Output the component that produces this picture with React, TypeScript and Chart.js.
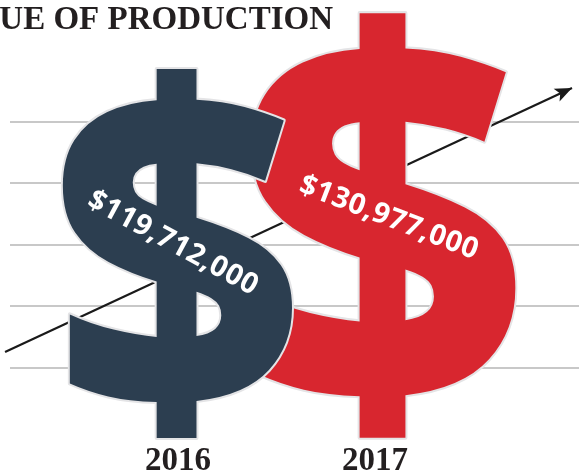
import React, { useEffect, useRef } from 'react';
import { Chart, registerables } from 'chart.js';

Chart.register(...registerables);

// ---- data ----
const years = [2016, 2017];
const yearLabels = ['2016', '2017'];
const valuesMillions = [119.712, 130.977];
const valueLabels = ['$119,712,000', '$130,977,000'];
const gridValues = [59.4, 71.7, 84, 96.3, 108.6];
const arrowX = [2015.122, 2018.0];
const arrowY = [62.6, 115.4];
const titleText = 'VALUE OF PRODUCTION';

// ---- style ----
const dollarColors = ['#2c3e50', '#d8262f'];
const glyphXOffset = [-1, 8];
const glyphAspect = 0.635;
const labelAngles = [28.5, 21];
const labelOffsets = [
  [-4, -10],
  [6, -7],
];
const textDark = '#231f20';

function drawDollar(ctx: CanvasRenderingContext2D, cx: number, top: number, bottom: number, color: string) {
  const h = bottom - top;
  const w = h * glyphAspect;
  ctx.save();
  ctx.font = '800 400px "Open Sans"';
  ctx.textAlign = 'left';
  ctx.textBaseline = 'alphabetic';
  const m = ctx.measureText('$');
  const gh = m.actualBoundingBoxAscent + m.actualBoundingBoxDescent;
  const gw = m.actualBoundingBoxLeft + m.actualBoundingBoxRight;
  const sx = w / gw;
  const sy = h / gh;
  ctx.translate(cx - w / 2, top);
  ctx.scale(sx, sy);
  ctx.lineJoin = 'round';
  ctx.strokeStyle = '#e4e4e6';
  ctx.lineWidth = 4 / Math.min(sx, sy);
  ctx.strokeText('$', m.actualBoundingBoxLeft, m.actualBoundingBoxAscent);
  ctx.fillStyle = color;
  ctx.fillText('$', m.actualBoundingBoxLeft, m.actualBoundingBoxAscent);
  ctx.restore();
}

const infographicPlugin = {
  id: 'infographic',
  afterDatasetsDraw(chart: any) {
    const ctx: CanvasRenderingContext2D = chart.ctx;
    const yScale = chart.scales.y;
    const base = yScale.getPixelForValue(yScale.min);

    // arrow head on the trend line
    const arrowMeta = chart.getDatasetMeta(1);
    const p0 = arrowMeta.data[0];
    const p1 = arrowMeta.data[arrowMeta.data.length - 1];
    const ang = Math.atan2(p1.y - p0.y, p1.x - p0.x);
    ctx.save();
    ctx.translate(p1.x, p1.y);
    ctx.rotate(ang);
    ctx.fillStyle = '#1a1a1a';
    ctx.beginPath();
    ctx.moveTo(0, 0);
    ctx.lineTo(-17, -7);
    ctx.lineTo(-13, 0);
    ctx.lineTo(-17, 7);
    ctx.closePath();
    ctx.fill();
    ctx.restore();

    // dollar glyphs: later year drawn first, earlier on top
    const meta = chart.getDatasetMeta(0);
    for (let i = meta.data.length - 1; i >= 0; i--) {
      const pt = meta.data[i];
      drawDollar(ctx, pt.x + glyphXOffset[i], pt.y, base, dollarColors[i]);
    }
    // value labels
    for (let i = 0; i < meta.data.length; i++) {
      const pt = meta.data[i];
      const cx = pt.x + glyphXOffset[i] + labelOffsets[i][0];
      const cy = (pt.y + base) / 2 + labelOffsets[i][1];
      ctx.save();
      ctx.translate(cx, cy);
      ctx.rotate((labelAngles[i] * Math.PI) / 180);
      ctx.font = '700 29px "Open Sans"';
      (ctx as any).letterSpacing = '0.6px';
      ctx.fillStyle = '#ffffff';
      ctx.textAlign = 'center';
      ctx.textBaseline = 'middle';
      ctx.fillText(valueLabels[i], 0, 0);
      ctx.restore();
    }
  },
  afterDraw(chart: any) {
    const ctx: CanvasRenderingContext2D = chart.ctx;
    ctx.save();
    ctx.font = 'bold 33px "Liberation Serif"';
    ctx.fillStyle = textDark;
    ctx.textAlign = 'right';
    ctx.textBaseline = 'alphabetic';
    ctx.fillText(titleText, 333, 29);
    ctx.restore();
  },
};

export default function App() {
  const canvasRef = useRef<HTMLCanvasElement | null>(null);

  useEffect(() => {
    if (!canvasRef.current) return;
    const chart = new Chart(canvasRef.current, {
      type: 'line',
      data: {
        datasets: [
          {
            label: 'Value of production',
            data: years.map((x, i) => ({ x, y: valuesMillions[i] })),
            showLine: false,
            pointRadius: 0,
            pointHoverRadius: 0,
          },
          {
            label: 'Trend',
            data: arrowX.map((x, i) => ({ x, y: arrowY[i] })),
            borderColor: '#1a1a1a',
            borderWidth: 2.2,
            pointRadius: 0,
            pointHoverRadius: 0,
            clip: false,
          } as any,
        ],
      },
      options: {
        animation: false,
        responsive: true,
        maintainAspectRatio: false,
        layout: { padding: { left: 10, right: 0, top: 0, bottom: 0 } },
        plugins: {
          legend: { display: false },
          tooltip: { enabled: false },
          title: { display: false },
        },
        scales: {
          x: {
            type: 'linear',
            min: 2015.1472,
            max: 2018.0355,
            grid: { display: false, drawTicks: true, tickLength: 12.6 },
            border: { display: false },
            afterBuildTicks: (axis: any) => {
              axis.ticks = years.map((v) => ({ value: v }));
            },
            ticks: {
              padding: 0,
              color: textDark,
              font: { family: '"Liberation Serif"', size: 33, weight: 'bold', lineHeight: 0.5576 },
              callback: (v: any) => yearLabels[years.indexOf(Number(v))] ?? '',
              autoSkip: false,
              maxRotation: 0,
            },
          },
          y: {
            type: 'linear',
            min: 45,
            max: 133,
            border: { display: false },
            grid: { color: '#c8c8c8', lineWidth: 2, drawTicks: false },
            afterBuildTicks: (axis: any) => {
              axis.ticks = gridValues.map((v) => ({ value: v }));
            },
            ticks: { display: false },
          },
        },
      },
      plugins: [infographicPlugin],
    });
    return () => chart.destroy();
  }, []);

  return (
    <div style={{ position: 'fixed', left: 0, top: 0, width: 579, height: 471, background: '#ffffff' }}>
      <canvas ref={canvasRef} />
    </div>
  );
}
